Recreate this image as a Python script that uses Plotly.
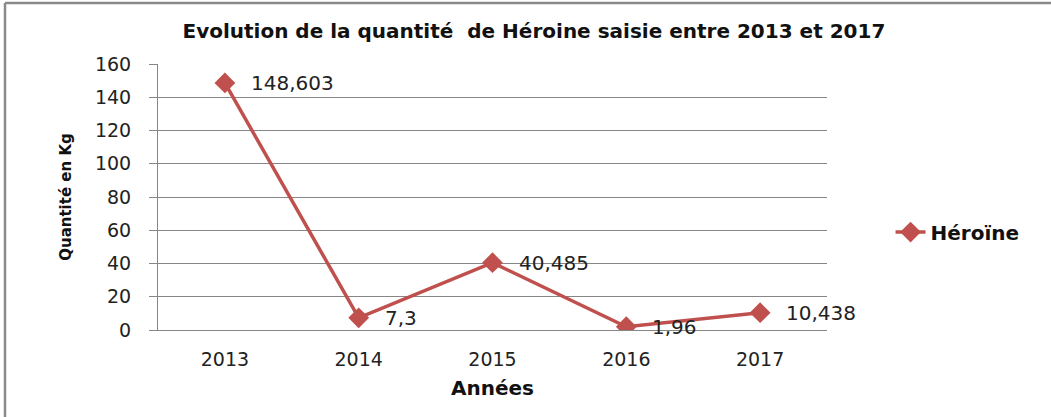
import plotly.graph_objects as go

years = ["2013", "2014", "2015", "2016", "2017"]
heroine = [148.603, 7.3, 40.485, 1.96, 10.438]
value_labels = ["148,603", "7,3", "40,485", "1,96", "10,438"]
y_ticks = [0, 20, 40, 60, 80, 100, 120, 140, 160]

RED = "#C0504D"
TXT = "#222222"
NUMFONT = dict(family="DejaVu Sans", size=19, color=TXT)
LBLFONT = dict(family="DejaVu Sans", size=20, color=TXT)

fig = go.Figure()
fig.add_trace(go.Scatter(
    x=years, y=heroine, mode="lines+markers", name="<b>Héroïne</b>",
    line=dict(color=RED, width=3.5),
    marker=dict(symbol="diamond", size=16, color=RED),
))

for i, (y, t) in enumerate(zip(heroine, value_labels)):
    fig.add_annotation(x=i, y=y, text=t, showarrow=False, xanchor="left",
                       yanchor="middle", xshift=24, font=LBLFONT)

fig.update_layout(
    width=1051, height=417,
    margin=dict(l=158, r=224, t=64, b=87, autoexpand=False),
    paper_bgcolor="white", plot_bgcolor="white",
    title=dict(text="<b>Evolution de la quantité  de Héroine saisie entre 2013 et 2017</b>",
               x=0.508, xanchor="center", xref="container", y=0.925, yanchor="middle",
               font=dict(family="DejaVu Sans", size=20, color="#111111")),
    showlegend=True,
    legend=dict(x=1.095, xanchor="left", y=0.368, yanchor="middle", xref="paper",
                font=dict(family="DejaVu Sans", size=20, color="#111111"),
                bgcolor="rgba(0,0,0,0)"),
)

fig.update_xaxes(
    type="category", range=[-0.5, 4.5],
    showline=True, linecolor="#868686", linewidth=1,
    showgrid=False, ticks="", tickfont=NUMFONT, ticklabelstandoff=12,
    title=dict(text="<b>Années</b>", font=dict(family="DejaVu Sans", size=20, color="#111111"), standoff=12),
)
fig.update_yaxes(
    range=[0, 160], tickvals=y_ticks,
    showline=True, linecolor="#868686", linewidth=1,
    showgrid=True, gridcolor="#868686", gridwidth=1,
    ticks="outside", ticklen=8, tickcolor="#868686",
    tickfont=NUMFONT, ticklabelstandoff=14, zeroline=False,
    title=dict(text="<b>Quantité en Kg</b>", font=dict(family="DejaVu Sans", size=15, color="#111111"), standoff=19),
)

# outer frame lines
fig.add_shape(type="line", xref="paper", yref="paper", x0=-153/669, x1=(1051-158)/669,
              y0=(330-3)/266, y1=(330-3)/266, line=dict(color="#8a8a8a", width=2.5))
fig.add_shape(type="line", xref="paper", yref="paper", x0=-153/669, x1=-153/669,
              y0=(330-3)/266, y1=-87/266, line=dict(color="#8a8a8a", width=2.5))

fig.write_html("out.html", config={"displayModeBar": False},
               post_script="document.body.style.margin='0';")
